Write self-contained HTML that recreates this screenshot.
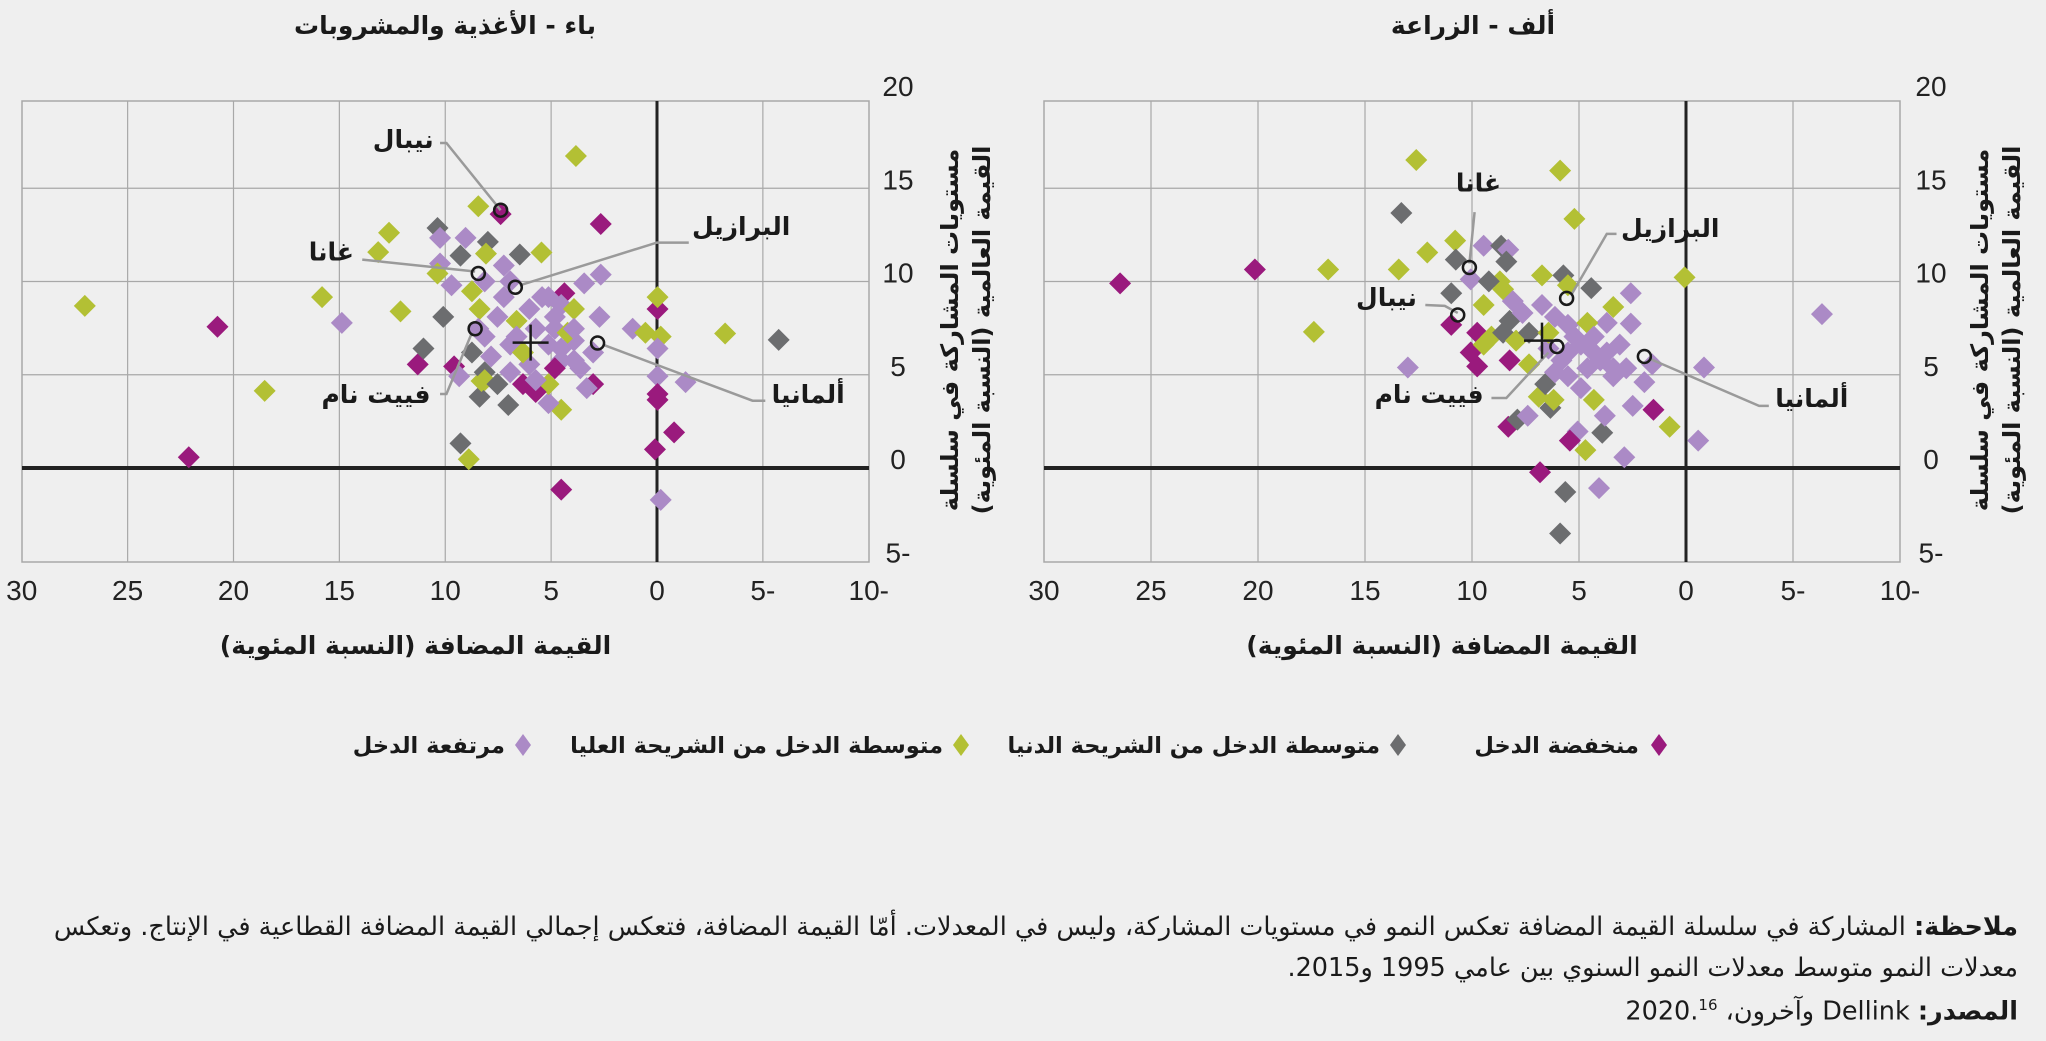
<!DOCTYPE html>
<html><head><meta charset="utf-8">
<style>
html,body{margin:0;padding:0;background:#efefef;}
body{width:2046px;height:1041px;overflow:hidden;position:relative;font-family:"DejaVu Sans","Liberation Sans",sans-serif;}
.note{position:absolute;right:28px;width:2010px;direction:rtl;text-align:right;font-size:25.5px;color:#1a1a1a;white-space:nowrap;}
</style></head><body>
<svg id="s" width="2046" height="1041" viewBox="0 0 2046 1041" xmlns="http://www.w3.org/2000/svg" style="position:absolute;left:0;top:0">
</svg>
<div class="note" style="top:912px"><b>ملاحظة:</b> المشاركة في سلسلة القيمة المضافة تعكس النمو في مستويات المشاركة، وليس في المعدلات. أمّا القيمة المضافة، فتعكس إجمالي القيمة المضافة القطاعية في الإنتاج. وتعكس</div>
<div class="note" style="top:953px">معدلات النمو متوسط معدلات النمو السنوي بين عامي 1995 و2015.</div>
<div class="note" style="top:996px"><b>المصدر:</b> Dellink وآخرون، 2020.<sup style="font-size:15px">16</sup></div>
<script>
var NS="http://www.w3.org/2000/svg",S=document.getElementById('s');
function el(t,a,txt){var e=document.createElementNS(NS,t);for(var k in a)e.setAttribute(k,a[k]);if(txt!==undefined)e.textContent=txt;S.appendChild(e);return e;}
var C={m:'#9a1a7d',d:'#6c6d6f',g:'#b3c034',l:'#ab8ac6'};
var AR='"DejaVu Sans",sans-serif';
var NUM='"Liberation Sans Narrow","Liberation Sans",sans-serif';
function panel(P){
  var X0=P.x0,X1=P.x1,ZX=P.zx,T=101,B=562,Y0=468,ys=18.65,xs=(X1-X0)/40;
  function px(v){return ZX-v*xs;} function py(v){return Y0-v*ys;}
  el('rect',{x:X0,y:T,width:X1-X0,height:B-T,fill:'#efefef',stroke:'#a8a8a8','stroke-width':1.5});
  for(var v=-5;v<=25;v+=5){if(v!==0)el('line',{x1:px(v),x2:px(v),y1:T,y2:B,stroke:'#a8a8a8','stroke-width':1.2});}
  [5,10,15].forEach(function(v){el('line',{x1:X0,x2:X1,y1:py(v),y2:py(v),stroke:'#a8a8a8','stroke-width':1.2});});
  el('line',{x1:px(0),x2:px(0),y1:T,y2:B,stroke:'#222','stroke-width':3});
  el('line',{x1:X0,x2:X1,y1:py(0),y2:py(0),stroke:'#222','stroke-width':4});
  [30,25,20,15,10,5,0,-5,-10].forEach(function(v){el('text',{x:px(v),y:600,'text-anchor':'middle','font-size':28,'font-family':NUM,fill:'#222'},v<0?(-v)+'-':v);});
  [20,15,10,5,0,-5].forEach(function(v){el('text',{x:P.yl,y:py(v)+1,'text-anchor':'middle','font-size':28,'font-family':NUM,fill:'#222'},v<0?(-v)+'-':v);});
  function Z(p){return [p[1]/P.kx+P.ox, 60+p[2]/2.53];}
  P.pts.forEach(function(p){var c=Z(p),h=11;el('polygon',{points:(c[0])+','+(c[1]-h)+' '+(c[0]+h)+','+c[1]+' '+c[0]+','+(c[1]+h)+' '+(c[0]-h)+','+c[1],fill:C[p[0]]});});
  P.lines.forEach(function(L){var pts=L.map(function(q){var c=Z([0,q[0],q[1]]);return c[0]+','+c[1];}).join(' ');el('polyline',{points:pts,fill:'none',stroke:'#9a9a9a','stroke-width':2.5});});
  P.circ.forEach(function(q){var c=Z([0,q[0],q[1]]);el('circle',{cx:c[0],cy:c[1],r:6.5,fill:'none',stroke:'#1a1a1a','stroke-width':2.5});});
  var c=Z([0,P.cross[0],P.cross[1]]);
  el('line',{x1:c[0]-18,x2:c[0]+18,y1:c[1],y2:c[1],stroke:'#1a1a1a','stroke-width':2.5});
  el('line',{x1:c[0],x2:c[0],y1:c[1]-18,y2:c[1]+18,stroke:'#1a1a1a','stroke-width':2.5});
  P.labels.forEach(function(L){var c=Z([0,L[1],L[2]]);el('text',{x:c[0],y:c[1]+9,'text-anchor':L[3],'font-size':25,'font-weight':'bold','font-family':AR,fill:'#1a1a1a'},L[0]);});
  el('text',{x:P.tx,y:34,'text-anchor':'middle','font-size':25,'font-weight':'bold','font-family':AR,fill:'#1a1a1a'},P.title);
  el('text',{x:(X0+X1)/2-30,y:654,'text-anchor':'middle','font-size':25,'font-weight':'bold','font-family':AR,fill:'#1a1a1a'},'القيمة المضافة (النسبة المئوية)');
  var g=el('g',{transform:'translate('+P.at+',330) rotate(-90)'});
  var t1=document.createElementNS(NS,'text');t1.setAttribute('x',0);t1.setAttribute('y',0);t1.setAttribute('text-anchor','middle');t1.setAttribute('font-size',24);t1.setAttribute('font-weight','bold');t1.setAttribute('font-family',AR);t1.setAttribute('fill','#1a1a1a');t1.textContent='مستويات المشاركة في سلسلة';g.appendChild(t1);
  var t2=t1.cloneNode();t2.setAttribute('y',32);t2.textContent='القيمة العالمية (النسبة المئوية)';g.appendChild(t2);
}
panel({x0:22,x1:869,zx:657,kx:1.568,ox:0,yl:898,at:958,tx:445,title:'باء - الأغذية والمشروبات',
pts:[['g',133,622],['m',341,675],['l',536,665],['g',505,600],['g',628,636],['g',415,837],['m',296,1005],['g',610,437],['g',593,486],['g',903,243],['g',750,370],['m',942,415],['g',849,487],['l',942,543],['l',916,565],['m',1031,630],['g',1031,600],['l',992,680],['g',1012,690],['g',1036,700],['g',1137,692],['d',1221,708],['l',1031,730],['l',1031,800],['l',1075,815],['m',1031,845],['m',1031,860],['m',1057,942],['m',1027,985],['m',880,1087],['l',1036,1113],['d',722,970],['g',735,1010],['d',752,852],['d',797,873],['g',880,885],['l',860,868],['m',655,770],['d',664,730],['d',695,650],['m',712,775],['l',720,800],['g',755,812],
['d',686,425],['l',690,450],['l',730,450],['d',765,460],['d',722,495],['g',762,490],['d',815,492],['l',690,515],['g',686,540],['l',708,570],['l',790,520],['l',800,560],['l',760,560],['g',740,585],['l',790,600],['l',830,630],['g',752,630],['m',885,590],['l',860,600],['l',880,620],['l',780,650],['g',810,660],['l',840,680],['l',870,680],['g',900,630],['l',940,650],['l',760,700],['l',800,720],['l',860,720],['l',900,710],['l',930,740],['l',770,750],['l',830,770],['l',880,760],['l',910,780],['d',760,790],['l',800,790],['g',860,820],['g',760,810],['d',780,820],['m',820,820],['m',840,840],['m',930,820],['l',920,830],['l',840,810],['m',870,780],['l',900,760],['g',820,740],['l',750,680],['d',740,740],['g',890,690],['m',785,390],['l',850,600],['l',870,650],['l',810,700],['l',900,680],['l',880,730]],
lines:[[[690,210],[700,210],[785,380]],[[568,505],[745,535]],[[1080,462],[1030,462],[815,570]],[[690,845],[700,845],[740,690]],[[1200,862],[1180,862],[945,720]]],
circ:[[785,380],[750,540],[808,575],[745,680],[937,716]],cross:[832,715],
labels:[['نيبال',680,200,'end'],['غانا',555,485,'end'],['البرازيل',1085,420,'start'],['فييت نام',675,845,'end'],['ألمانيا',1210,845,'start']]});
panel({x0:1044,x1:1900,zx:1686,kx:1.543,ox:1030,yl:1931,at:1988,tx:1473,title:'ألف - الزراعة',
pts:[['m',139,565],['m',347,530],['g',460,530],['g',438,688],['g',596,253],['g',818,280],['g',840,402],['d',573,387],['g',656,457],['g',613,487],['g',569,530],['l',583,778],['g',1010,550],['l',1222,643],['l',1040,778],['l',1031,963],['l',917,1005],['g',987,928],['m',962,885],['g',857,987],['l',845,940],['d',883,943],['m',833,963],['m',787,1043],['d',826,1093],['l',878,1083],['d',818,1198],['l',930,875],['l',887,900],['l',948,815],['l',960,770],['m',738,928],['d',752,910],['l',768,900],['d',803,880],['g',785,852],['g',808,860],['g',870,860],['d',795,820],
['d',657,505],['l',700,470],['d',727,470],['l',738,480],['d',735,510],['l',680,555],['d',650,590],['g',700,620],['g',725,560],['d',708,560],['g',730,580],['l',745,610],['g',790,545],['d',823,545],['g',830,570],['d',866,577],['l',927,590],['g',900,625],['l',890,665],['l',927,667],['m',650,670],['m',690,690],['m',680,740],['m',690,775],['g',712,700],['g',700,720],['d',740,660],['d',730,690],['l',760,640],['l',790,620],['l',810,650],['l',830,670],['g',860,665],['g',750,710],['m',740,760],['g',770,770],['l',800,730],['l',820,760],['l',850,720],['l',870,700],['l',890,740],['l',900,780],['l',830,800],['l',850,830],['l',880,760],['l',910,720],['l',920,780],['d',770,690],['g',800,690],['l',860,780],['l',810,790],['l',900,800],['l',840,700],['l',870,740],['l',830,740]],
lines:[[[686,385],[678,515]],[[905,440],[890,440],[835,595]],[[610,620],[640,622],[660,640]],[[712,855],[735,855],[800,740]],[[1140,875],[1125,875],[955,755]]],
circ:[[678,525],[828,603],[660,645],[813,725],[948,750]],cross:[790,710],
labels:[['غانا',692,310,'middle'],['البرازيل',912,425,'start'],['نيبال',597,600,'end'],['فييت نام',700,845,'end'],['ألمانيا',1150,855,'start']]});
[['m',1659,'منخفضة الدخل',1639],['d',1398,'متوسطة الدخل من الشريحة الدنيا',1380],['g',961,'متوسطة الدخل من الشريحة العليا',943],['l',523,'مرتفعة الدخل',505]].forEach(function(L){
  var x=L[1],y=745,h=11;
  el('polygon',{points:x+','+(y-h)+' '+(x+8)+','+y+' '+x+','+(y+h)+' '+(x-8)+','+y,fill:C[L[0]]});
  el('text',{x:L[3],y:753,'text-anchor':'end','font-size':22.5,'font-weight':'bold','font-family':AR,fill:'#1a1a1a'},L[2]);
});
</script>
</body></html>
